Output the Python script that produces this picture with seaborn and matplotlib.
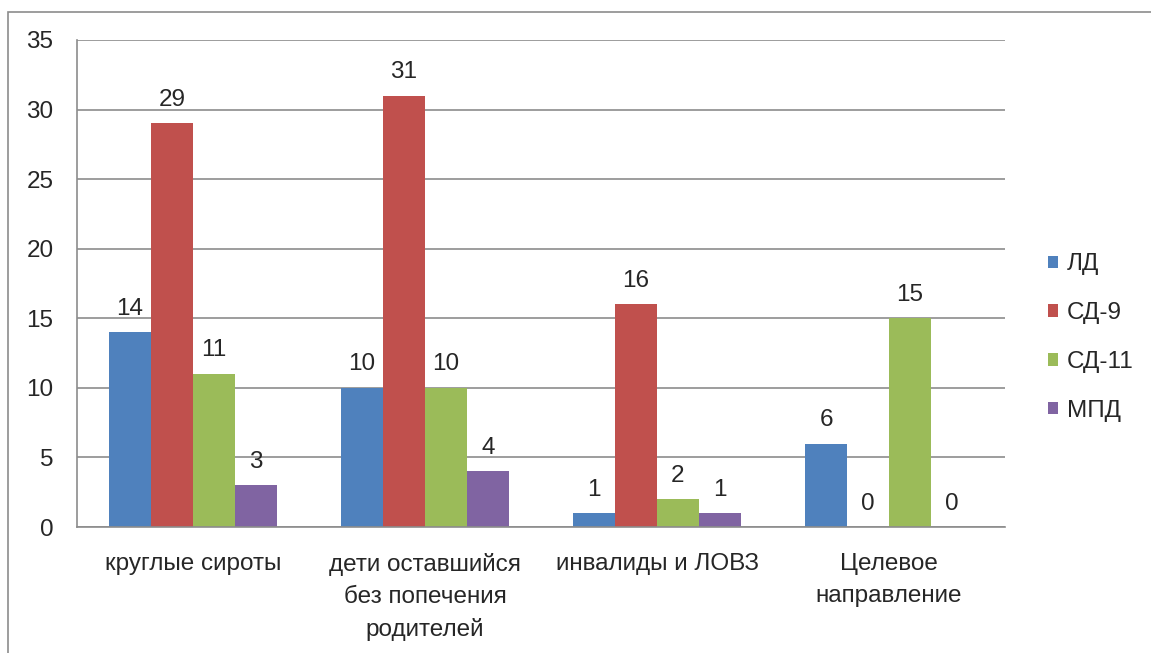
import seaborn as sns
import matplotlib.pyplot as plt
import pandas as pd
from matplotlib.patches import Rectangle

categories = ['круглые сироты', 'дети оставшийся\nбез попечения\nродителей',
              'инвалиды и ЛОВЗ', 'Целевое\nнаправление']
series = ['ЛД', 'СД-9', 'СД-11', 'МПД']
ld = [14, 10, 1, 6]
sd9 = [29, 31, 16, 0]
sd11 = [11, 10, 2, 15]
mpd = [3, 4, 1, 0]
colors = ['#4F81BD', '#C0504D', '#9BBB59', '#8064A2']

rows = []
for name, vals in zip(series, [ld, sd9, sd11, mpd]):
    for c, v in zip(categories, vals):
        rows.append({'cat': c, 'series': name, 'value': v})
df = pd.DataFrame(rows)

sns.set_style('white')
plt.rcParams['font.family'] = ['Liberation Sans', 'DejaVu Sans']
fs = 17.5

fig = plt.figure(figsize=(11.51, 6.53), dpi=100)
ax = fig.add_axes([77/1151, 1-527/653, (1005-77)/1151, (527-40)/653])

sns.barplot(data=df, x='cat', y='value', hue='series', palette=colors,
            width=0.724, saturation=1, ax=ax, order=categories, hue_order=series,
            linewidth=0)

for cont in ax.containers:
    ax.bar_label(cont, fmt='%d', padding=9, fontsize=fs)

ax.set_xlim(-0.5, 3.5)
ax.set_ylim(0, 35)
ax.set_yticks(range(0, 36, 5))
ax.yaxis.grid(True, color='#8c8c8c', linewidth=1.2)
ax.set_axisbelow(True)
ax.set_xlabel('')
ax.set_ylabel('')
for s in ['top', 'right']:
    ax.spines[s].set_visible(False)
for s in ['left', 'bottom']:
    ax.spines[s].set_color('#8c8c8c')
    ax.spines[s].set_linewidth(1.2)

# group boundaries get the tick marks, labels sit on the group centres
ax.set_xticks([-0.5, 0.5, 1.5, 2.5, 3.5])
ax.set_xticklabels([])
ax.set_xticks(range(4), minor=True)
ax.set_xticklabels(categories, minor=True, fontsize=fs, linespacing=1.58)
ax.tick_params(axis='x', which='major', length=8, color='#8c8c8c', width=1.2, direction='out')
ax.tick_params(axis='x', which='minor', length=0, pad=18.5)
ax.tick_params(axis='y', length=7, color='#8c8c8c', width=1.2, direction='out',
               labelsize=fs, pad=10)
for lab in ax.get_xticklabels(minor=True):
    lab.set_verticalalignment('top')

ax.legend(loc='center left', bbox_to_anchor=(0.9, 0.483), bbox_transform=fig.transFigure,
          frameon=False, fontsize=fs, handlelength=0.42, handleheight=0.42,
          handletextpad=0.35, labelspacing=1.1, borderpad=0)

fig.patches.append(Rectangle((8/1151, -0.1), 1.2, 1-12/653+0.1, transform=fig.transFigure,
                             fill=False, edgecolor='#8c8c8c', linewidth=1.2))

fig.savefig('out.png', dpi=100)
